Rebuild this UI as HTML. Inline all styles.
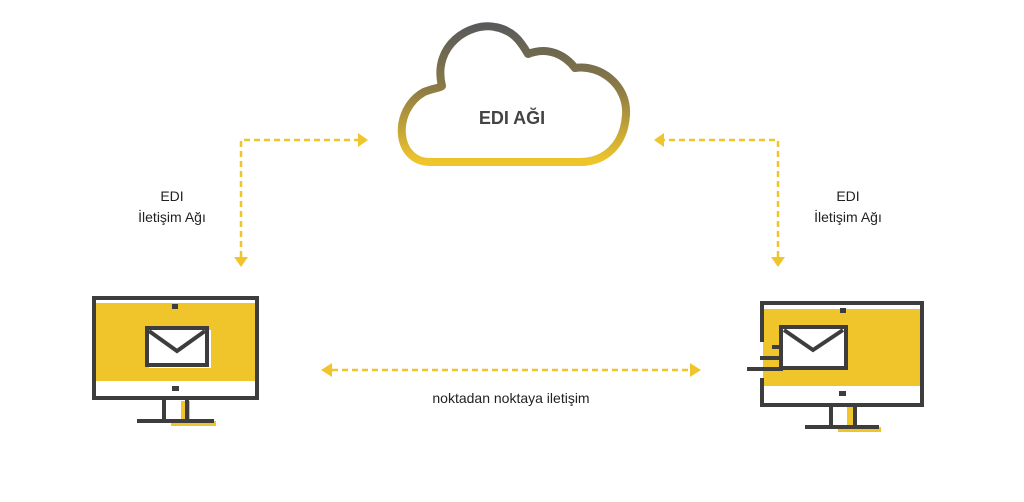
<!DOCTYPE html>
<html><head><meta charset="utf-8"><style>
html,body{margin:0;padding:0;background:#fff;}
svg{display:block}
text{font-family:"Liberation Sans","DejaVu Sans",sans-serif;}
</style></head><body>
<svg width="1024" height="502" viewBox="0 0 1024 502" xmlns="http://www.w3.org/2000/svg">
<defs>
<linearGradient id="g" x1="0" y1="0" x2="0" y2="1">
<stop offset="0" stop-color="#5a5a5a"/><stop offset="0.45" stop-color="#8a7a45"/><stop offset="1" stop-color="#f0c52c"/>
</linearGradient>
</defs>
<!-- cloud -->
<path d="M430,162 C395,162 392,110 424,92 C434,88 440,88 442,86 C432,45 470,22 495,27 C512,30 520,40 528,54 C548,46 565,55 575,68 C600,64 628,85 626,115 C624,145 605,162 580,162 Z" fill="#fff" stroke="url(#g)" stroke-width="8" stroke-linejoin="round"/>
<text x="512" y="124" font-size="18" font-weight="bold" fill="#444" text-anchor="middle">EDI AĞI</text>
<!-- dashed connectors -->
<g stroke="#f0c52c" stroke-width="2.5" stroke-dasharray="6,4" fill="none">
<path d="M241,257 V140 H358"/>
<path d="M778,257 V140 H664"/>
<path d="M332,370 H690"/>
</g>
<g fill="#f0c52c">
<polygon points="358,133 368,140 358,147"/>
<polygon points="234,257 248,257 241,267"/>
<polygon points="664,133 654,140 664,147"/>
<polygon points="771,257 785,257 778,267"/>
<polygon points="332,363 321,370 332,377"/>
<polygon points="690,363 701,370 690,377"/>
</g>
<g fill="#222" font-size="14" text-anchor="middle">
<text x="172" y="201">EDI</text>
<text x="172" y="222">İletişim Ağı</text>
<text x="848" y="201">EDI</text>
<text x="848" y="222">İletişim Ağı</text>
<text x="511" y="403">noktadan noktaya iletişim</text>
</g>
<!-- left monitor -->
<rect x="96" y="303" width="160" height="78" fill="#f0c52c"/>
<rect x="181" y="401" width="9" height="24" fill="#f0c52c"/>
<rect x="171" y="421" width="45" height="5" fill="#f0c52c"/>
<rect x="94" y="298" width="163" height="100" fill="none" stroke="#3d3d3d" stroke-width="4"/>
<rect x="172" y="304" width="6" height="5" fill="#3d3d3d"/>
<rect x="172" y="386" width="7" height="5" fill="#3d3d3d"/>
<rect x="149" y="330" width="62" height="38" fill="#fff"/>
<rect x="147" y="328" width="60" height="37" fill="#fff" stroke="#3d3d3d" stroke-width="4"/>
<path d="M149,331 L177,351 L205,331" fill="none" stroke="#3d3d3d" stroke-width="4"/>
<path d="M164,400 V421 M187,400 V421" stroke="#3d3d3d" stroke-width="4"/>
<rect x="137" y="419" width="77" height="4" fill="#3d3d3d"/>
<!-- right monitor -->
<rect x="763" y="309" width="157" height="77" fill="#f0c52c"/>
<rect x="847" y="405" width="9" height="25" fill="#f0c52c"/>
<rect x="838" y="427" width="43" height="5" fill="#f0c52c"/>
<path d="M762,342 V303 H922 V405 H762 V378" fill="none" stroke="#3d3d3d" stroke-width="4"/>
<rect x="840" y="308" width="6" height="5" fill="#3d3d3d"/>
<rect x="839" y="391" width="7" height="5" fill="#3d3d3d"/>
<rect x="782" y="327" width="64" height="43" fill="#fff"/>
<rect x="781" y="327" width="65" height="41" fill="#fff" stroke="#3d3d3d" stroke-width="4"/>
<path d="M784,330 L813,350 L843,330" fill="none" stroke="#3d3d3d" stroke-width="4"/>
<path d="M772,347 H781 M760,358 H781 M747,369 H783" stroke="#3d3d3d" stroke-width="4"/>
<path d="M831,405 V426 M855,405 V426" stroke="#3d3d3d" stroke-width="4"/>
<rect x="805" y="425" width="74" height="4" fill="#3d3d3d"/>
</svg>
</body></html>
